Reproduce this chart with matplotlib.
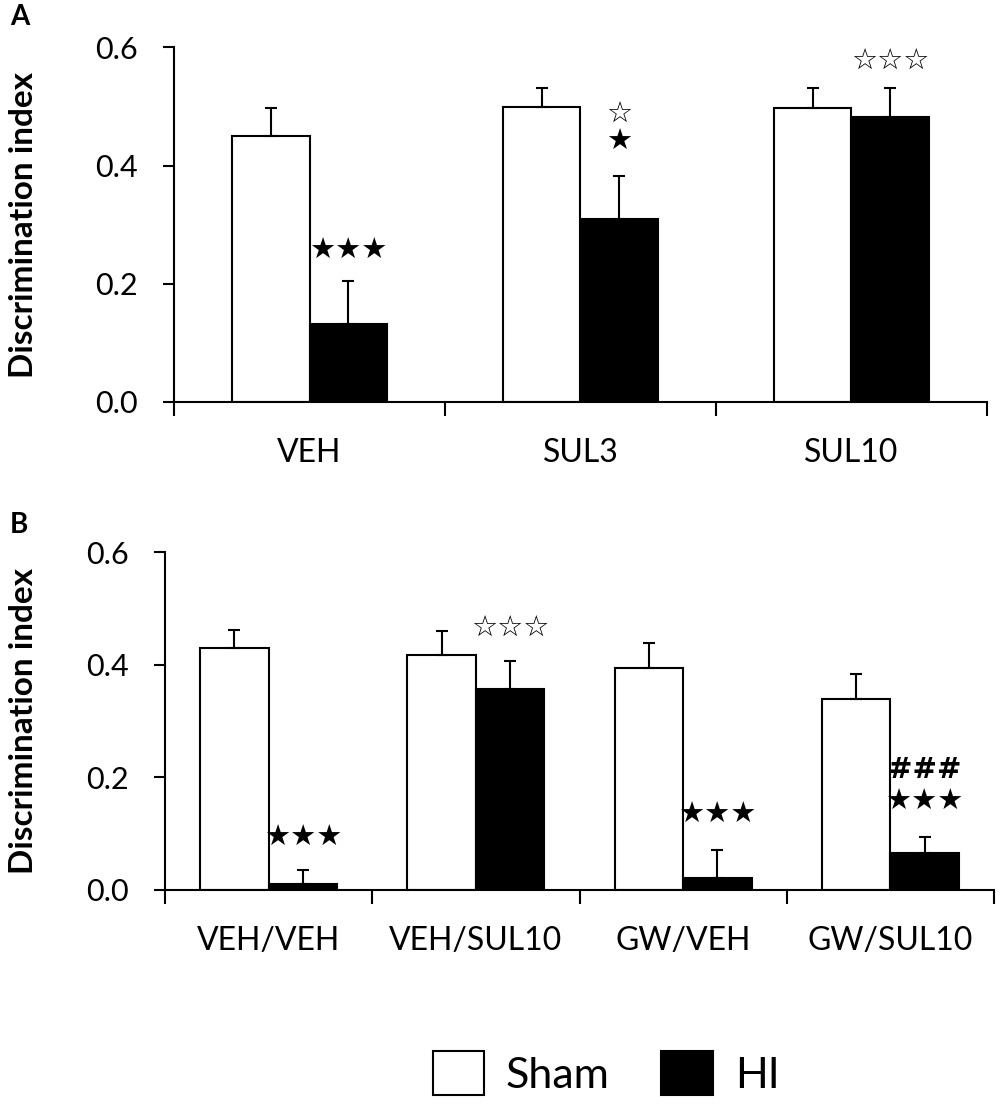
import numpy as np
import matplotlib
matplotlib.use('Agg')
import matplotlib.pyplot as plt
from matplotlib.patches import Patch

plt.rcParams['font.family'] = ['Lato', 'DejaVu Sans']

# --- Panel A data ---
groups_a = ['VEH', 'SUL3', 'SUL10']
sham_a = [0.450, 0.499, 0.497]
sham_a_err = [0.047, 0.032, 0.034]
hi_a = [0.132, 0.310, 0.482]
hi_a_err = [0.073, 0.073, 0.049]

# --- Panel B data ---
groups_b = ['VEH/VEH', 'VEH/SUL10', 'GW/VEH', 'GW/SUL10']
sham_b = [0.430, 0.417, 0.394, 0.339]
sham_b_err = [0.031, 0.043, 0.045, 0.045]
hi_b = [0.011, 0.357, 0.021, 0.065]
hi_b_err = [0.025, 0.049, 0.050, 0.029]

# significance marks above HI bars: (group index, y, text)
marks_a = [(0, 0.256, '★★★'), (1, 0.487, '☆'), (1, 0.440, '★'), (2, 0.577, '☆☆☆')]
marks_b = [(0, 0.093, '★★★'), (1, 0.466, '☆☆☆'), (2, 0.134, '★★★'),
           (3, 0.213, '###'), (3, 0.157, '★★★')]


def draw_panel(ax, groups, sham, sham_err, hi, hi_err, marks, width, label_x):
    x = np.arange(len(groups))
    ax.bar(x - width / 2, sham, width, color='white', edgecolor='black', linewidth=1.5,
           yerr=[np.zeros(len(sham)), sham_err], capsize=4,
           error_kw=dict(elinewidth=1.5, capthick=1.5, ecolor='black'), zorder=2)
    ax.bar(x + width / 2, hi, width, color='black', edgecolor='black', linewidth=1.5,
           yerr=[np.zeros(len(hi)), hi_err], capsize=4,
           error_kw=dict(elinewidth=1.5, capthick=1.5, ecolor='black'), zorder=2)
    for i, y, t in marks:
        if t == '###':
            ax.text(i + width / 2, y, t, ha='center', va='center', fontsize=21,
                    fontweight='bold', family=['DejaVu Sans'])
        else:
            ax.text(i + width / 2, y, t, ha='center', va='center', fontsize=21,
                    family=['DejaVu Sans'])
    ax.set_xlim(-0.5, len(groups) - 0.5)
    ax.set_ylim(0, 0.6)
    ax.set_yticks([0.0, 0.2, 0.4, 0.6])
    ax.set_yticklabels(['0.0', '0.2', '0.4', '0.6'], fontsize=22)
    ax.set_xticks(np.arange(len(groups) + 1) - 0.5)
    ax.set_xticklabels([])
    ax.set_xticks(x, minor=True)
    ax.set_xticklabels(groups, minor=True, fontsize=23)
    ax.tick_params(axis='x', which='minor', length=0, pad=26)
    ax.tick_params(axis='x', which='major', length=10, width=1.5, direction='out')
    ax.tick_params(axis='y', length=8, width=1.5, direction='out', pad=18)
    for s in ['top', 'right']:
        ax.spines[s].set_visible(False)
    for s in ['left', 'bottom']:
        ax.spines[s].set_linewidth(1.5)
    ax.set_ylabel('Discrimination index', fontsize=24, fontweight='bold')
    ax.yaxis.set_label_coords(label_x, 0.5)


fig = plt.figure(figsize=(10, 11.04), dpi=100)

ax1 = fig.add_axes([0.174, 0.636, 0.813, 0.321])
draw_panel(ax1, groups_a, sham_a, sham_a_err, hi_a, hi_a_err, marks_a, 0.287, -0.167)

ax2 = fig.add_axes([0.165, 0.194, 0.829, 0.306])
draw_panel(ax2, groups_b, sham_b, sham_b_err, hi_b, hi_b_err, marks_b, 0.33, -0.153)

fig.text(0.01, 0.985, 'A', fontsize=20, fontweight='bold', va='center')
fig.text(0.01, 0.5245, 'B', fontsize=20, fontweight='bold', va='center')

handles = [Patch(facecolor='white', edgecolor='black', linewidth=1.5, label='Sham'),
           Patch(facecolor='black', edgecolor='black', linewidth=1.5, label='HI')]
fig.legend(handles=handles, loc='center', bbox_to_anchor=(0.606, 0.028), ncol=2,
           frameon=False, fontsize=31, handlelength=1.2, handleheight=1.2,
           columnspacing=1.2, handletextpad=0.5)

fig.savefig('out.png', dpi=100)
